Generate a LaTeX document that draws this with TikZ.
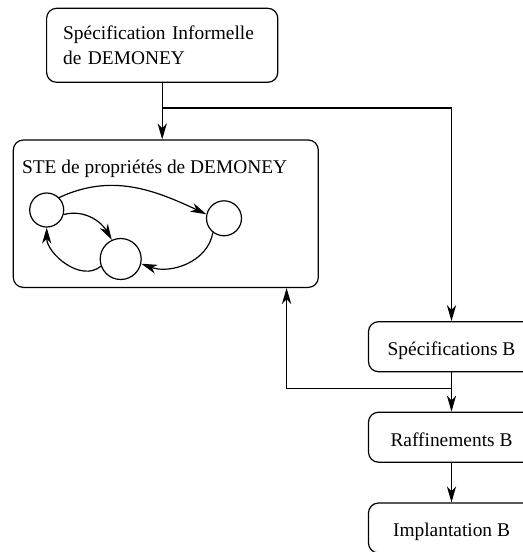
\documentclass[tikz,border=0pt]{standalone}
\usepackage{fontspec}
\setmainfont{Liberation Serif}
\usetikzlibrary{arrows.meta,calc}

\begin{document}
\begin{tikzpicture}[x=0.5pt,y=0.5pt,
    every node/.style={font=\fontsize{9.7}{12.5}\selectfont},
    etape/.style={draw,rounded corners=5pt,line width=0.6pt},
    etat/.style={draw,circle,inner sep=0pt,line width=0.6pt},
    fl/.style={-{Stealth[length=8pt,width=4.6pt,inset=2.4pt]},line width=0.6pt}]
  \useasboundingbox (0,0) rectangle (523,-552);
  \node[etape,text width=99pt,inner xsep=8.3pt,minimum height=37pt,align=left] (info) at (162.2,-45.3) {Sp\'ecification Informelle\\de DEMONEY};
  \node[etape,minimum width=152.5pt,minimum height=73.7pt] (ste) at (165.8,-213.7) {};
  \node[anchor=base west,inner sep=0pt] (titre) at (21.7,-173.3) {STE de propri\'et\'es de DEMONEY};
  % petit systeme de transitions
  \foreach \n/\x/\y/\d in {s1/46.7/210/17pt,s2/224/218.3/17.5pt,s3/120.7/259/20.5pt}
    \node[etat,minimum size=\d] (\n) at (\x,-\y) {};
  \draw[fl] (s1.45) to[out=25,in=155] (s2.167);
  \draw[fl] (s1.-15) to[out=15,in=120] (s3.115);
  \draw[fl] (s3.200) to[out=220,in=-90] (s1.-90);
  \draw[fl] (s2.-128) to[out=-100,in=-20] (s3.-13);
  % chaine B
  \foreach \n/\y/\t in {specb/346.7/Sp\'ecifications B,raff/437.2/Raffinements B,impl/528/Implantation B}
    \node[etape,minimum width=83pt,minimum height=25pt,text height=9.2pt,text depth=0.4pt] (\n) at (451.5,-\y) {\t};
  \coordinate (fourche) at ($(info.south)+(0,-25)$);
  \coordinate (retour) at ($(specb.south)+(0,-16)$);
  \draw[fl] (info.south) -- (info.south |- ste.north);
  \draw[fl] (fourche) -| (specb.north);
  \draw[fl] (specb.south) -- (raff.north);
  \draw[fl] (retour) -| ([xshift=-16.15pt]ste.south east);
  \draw[fl] (raff) -- (impl);
\end{tikzpicture}
\end{document}
